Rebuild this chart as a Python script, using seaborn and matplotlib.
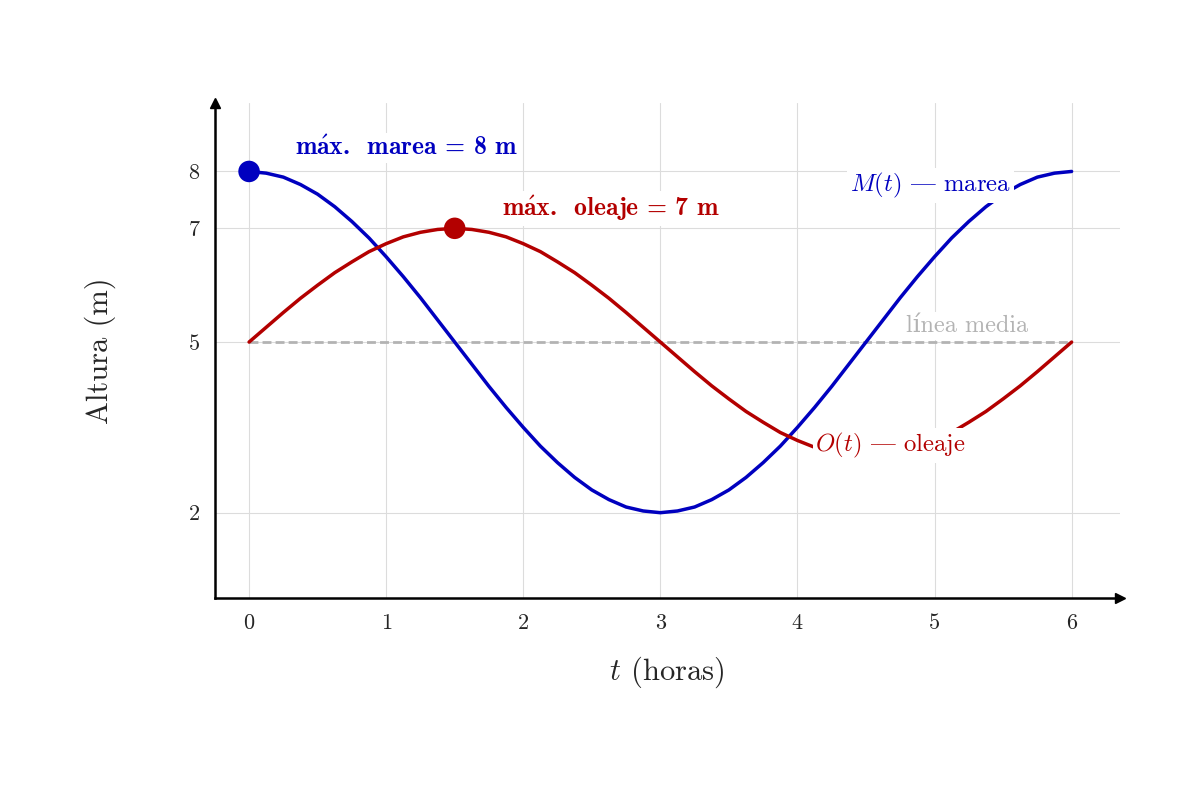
import numpy as np
import pandas as pd
import matplotlib
matplotlib.use("Agg")
import matplotlib.pyplot as plt
import seaborn as sns

# Data (t in hours, height in m)
t = [0.000, 0.125, 0.250, 0.375, 0.500, 0.625, 0.750, 0.875, 1.000, 1.125, 1.250, 1.375,
     1.500, 1.625, 1.750, 1.875, 2.000, 2.125, 2.250, 2.375, 2.500, 2.625, 2.750, 2.875,
     3.000, 3.125, 3.250, 3.375, 3.500, 3.625, 3.750, 3.875, 4.000, 4.125, 4.250, 4.375,
     4.500, 4.625, 4.750, 4.875, 5.000, 5.125, 5.250, 5.375, 5.500, 5.625, 5.750, 5.875,
     6.000]
marea = [8.00, 7.97, 7.90, 7.77, 7.60, 7.38, 7.12, 6.83, 6.50, 6.15, 5.78, 5.39,
         5.00, 4.61, 4.22, 3.85, 3.50, 3.17, 2.88, 2.62, 2.40, 2.23, 2.10, 2.03,
         2.00, 2.03, 2.10, 2.23, 2.40, 2.62, 2.88, 3.17, 3.50, 3.85, 4.22, 4.61,
         5.00, 5.39, 5.78, 6.15, 6.50, 6.83, 7.12, 7.38, 7.60, 7.77, 7.90, 7.97,
         8.00]
oleaje = [5.00, 5.26, 5.52, 5.77, 6.00, 6.22, 6.41, 6.59, 6.73, 6.85, 6.93, 6.98,
          7.00, 6.98, 6.93, 6.85, 6.73, 6.59, 6.41, 6.22, 6.00, 5.77, 5.52, 5.26,
          5.00, 4.74, 4.48, 4.23, 4.00, 3.78, 3.59, 3.41, 3.27, 3.15, 3.07, 3.02,
          3.00, 3.02, 3.07, 3.15, 3.27, 3.41, 3.59, 3.78, 4.00, 4.23, 4.48, 4.74,
          5.00]
media_t = [0, 6]
media_y = [5, 5]
max_marea = (0, 8)
max_oleaje = (1.5, 7)
x_ticks = [0, 1, 2, 3, 4, 5, 6]
y_ticks = [2, 5, 7, 8]

azul = "#0000BF"
rojo = "#B30000"
gris = "#B3B3B3"

sns.set_style("white")
plt.rcParams["font.family"] = ["cmr10", "DejaVu Serif"]
plt.rcParams["mathtext.fontset"] = "cm"
plt.rcParams["axes.formatter.use_mathtext"] = True

df = pd.DataFrame({"t": t, "marea": marea, "oleaje": oleaje})

fig = plt.figure(figsize=(12, 8), dpi=100)
ax = fig.add_axes([0.179, 0.2525, 0.754, 0.6185])

# grid
for x in x_ticks:
    ax.axvline(x, color="#DCDCDC", lw=0.8, zorder=0)
for y in y_ticks:
    ax.axhline(y, color="#DCDCDC", lw=0.8, zorder=0)

ax.plot(media_t, media_y, color=gris, lw=2.0, ls=(0, (3.2, 1.5)), zorder=1)
sns.lineplot(data=df, x="t", y="marea", color=azul, lw=2.5, ax=ax, zorder=2)
sns.lineplot(data=df, x="t", y="oleaje", color=rojo, lw=2.5, ax=ax, zorder=2)
sns.scatterplot(x=[max_marea[0]], y=[max_marea[1]], color=azul, s=240,
                edgecolor="none", ax=ax, zorder=4)
sns.scatterplot(x=[max_oleaje[0]], y=[max_oleaje[1]], color=rojo, s=240,
                edgecolor="none", ax=ax, zorder=4)

# cmr10 keeps the TeX layout: "|" is the em dash there
box = dict(facecolor="white", edgecolor="none", pad=2)
bold = ["cmb10", "DejaVu Serif"]
acute = r"$\mathbf{\acute{a}}$"
ax.text(1.15, 8.42, "m" + acute + "x.  marea = 8 m", color=azul, fontsize=18.5,
        family=bold, fontweight="bold", ha="center", va="center", bbox=box, zorder=5)
ax.text(2.64, 7.35, "m" + acute + "x.  oleaje = 7 m", color=rojo, fontsize=18.5,
        family=bold, fontweight="bold", ha="center", va="center", bbox=box, zorder=5)
ax.text(4.97, 7.75, r"$M(t)$ | marea", color=azul, fontsize=17.8,
        ha="center", va="center", bbox=box, zorder=5)
ax.text(4.68, 3.18, r"$O(t)$ | oleaje", color=rojo, fontsize=17.8,
        ha="center", va="center", bbox=box, zorder=5)
ax.text(5.24, 5.28, "línea media", color=gris, fontsize=17.5,
        ha="center", va="center", bbox=box, zorder=5)

ax.set_xlim(-0.25, 6.35)
ax.set_ylim(0.5, 9.2)
ax.set_xticks(x_ticks)
ax.set_xticklabels([str(v) for v in x_ticks])
ax.set_yticks(y_ticks)
ax.set_yticklabels([str(v) for v in y_ticks])
ax.tick_params(axis="both", direction="inout", length=6, width=0.8, color="#888888",
               labelsize=16, pad=8)

for s in ["top", "right"]:
    ax.spines[s].set_visible(False)
for s in ["left", "bottom"]:
    ax.spines[s].set_linewidth(1.8)
    ax.spines[s].set_color("black")
ax.plot(1, 0, ">", color="black", ms=7, transform=ax.transAxes, clip_on=False)
ax.plot(0, 1, "^", color="black", ms=7, transform=ax.transAxes, clip_on=False)

ax.set_xlabel(r"$t$ (horas)", fontsize=22, labelpad=16)
ax.set_ylabel("Altura (m)", fontsize=22, labelpad=52)

fig.savefig("out.png", dpi=100)
